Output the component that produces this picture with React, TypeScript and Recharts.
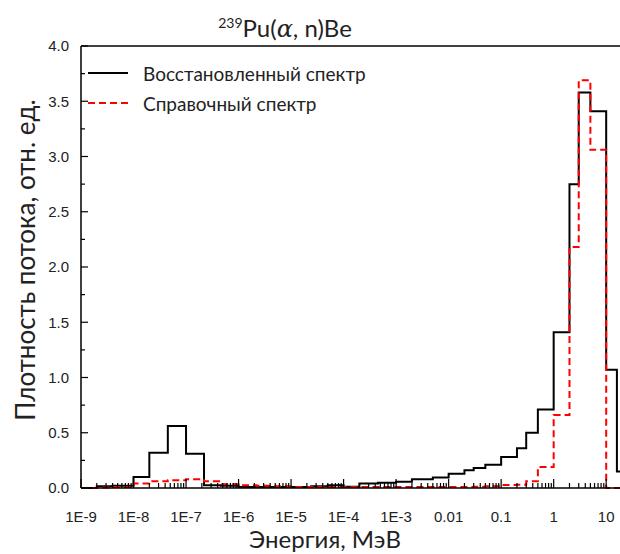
import { Label, Legend, Line, LineChart, ReferenceLine, XAxis, YAxis } from "recharts";

// границы энергетических групп, МэВ
const edges = [
  1e-9, 2e-9, 4e-9, 1e-8, 2e-8, 4.5e-8, 1e-7, 2.2e-7, 4.6e-7, 1e-6, 2.2e-6, 5e-6, 1e-5, 2.4e-5, 5e-5,
  1e-4, 2e-4, 4.5e-4, 1e-3, 2e-3, 5e-3, 0.01, 0.02, 0.03, 0.05, 0.1, 0.2, 0.3, 0.5, 1, 2, 3, 5, 10, 16, 20
];

const restored = [
  0, 0.015, 0.02, 0.1, 0.32, 0.56, 0.31, 0.025, 0.02, 0.01, 0.01, 0.01, 0.01, 0.015, 0.025, 0.012, 0.04,
  0.048, 0.057, 0.08, 0.095, 0.13, 0.16, 0.18, 0.21, 0.28, 0.36, 0.5, 0.71, 1.41, 2.75, 3.58, 3.41, 1.07, 0.15
];

const reference = [
  0, 0.005, 0.01, 0.04, 0.06, 0.07, 0.08, 0.06, 0.035, 0.025, 0.02, 0.015, 0.01, 0.01, 0.01, 0.01, 0.01,
  0.01, 0.01, 0.01, 0.01, 0.01, 0.01, 0.012, 0.015, 0.027, 0.03, 0.06, 0.19, 0.66, 2.18, 3.69, 3.06, 0, 0
];

const seriesNames = ["Восстановленный спектр", "Справочный спектр"];

const decadeTicks = [1e-9, 1e-8, 1e-7, 1e-6, 1e-5, 1e-4, 1e-3, 0.01, 0.1, 1, 10];
const decadeLabels = ["1E-9", "1E-8", "1E-7", "1E-6", "1E-5", "1E-4", "1E-3", "0.01", "0.1", "1", "10"];
const minorTicks = decadeTicks.flatMap((d) => [2, 3, 4, 5, 6, 7, 8, 9].map((m) => m * d)).filter((v) => v < 20);
const xTicks = [...decadeTicks, ...minorTicks].sort((a, b) => a - b);

const yTicks = [0, 0.25, 0.5, 0.75, 1, 1.25, 1.5, 1.75, 2, 2.25, 2.5, 2.75, 3, 3.25, 3.5, 3.75, 4];

const SANS = "Lato, 'Open Sans', sans-serif";
const ARIAL = "'Liberation Sans', Arial, sans-serif";
const TEXT = "#222";

const rows = edges.map((e, i) => ({
  e,
  rec: restored[Math.min(i, restored.length - 1)],
  ref: reference[Math.min(i, reference.length - 1)]
}));

function XTick(props: any) {
  const { x, y, payload } = props;
  const idx = decadeTicks.findIndex((d) => Math.abs(d - payload.value) / d < 1e-6);
  const major = idx >= 0;
  return (
    <g>
      <line x1={x} y1={y} x2={x} y2={y - (major ? 9 : 5)} stroke="#000" strokeWidth={1.2} />
      {major ? (
        <text x={x} y={y + 34} textAnchor="middle" fontSize={15} fontFamily={ARIAL} fill={TEXT}>
          {decadeLabels[idx]}
        </text>
      ) : null}
    </g>
  );
}

function YTick(props: any) {
  const { x, y, payload } = props;
  const v = payload.value as number;
  const major = Math.abs(v * 2 - Math.round(v * 2)) < 1e-9;
  return (
    <g>
      <line x1={x} y1={y} x2={x + (major ? 7 : 4)} y2={y} stroke="#000" strokeWidth={1.2} />
      {major ? (
        <text x={x - 12} y={y} dy="0.35em" textAnchor="end" fontSize={15} fontFamily={ARIAL} fill={TEXT}>
          {v.toFixed(1)}
        </text>
      ) : null}
    </g>
  );
}

function LegendBox() {
  return (
    <div style={{ fontFamily: SANS, fontSize: 19, color: TEXT }}>
      {seriesNames.map((name, i) => (
        <div key={name} style={{ display: "flex", alignItems: "center", height: 30 }}>
          <svg width={40} height={4} style={{ marginRight: 15 }}>
            <line
              x1={0}
              y1={2}
              x2={40}
              y2={2}
              stroke={i === 0 ? "#000" : "#ff0000"}
              strokeWidth={2}
              strokeDasharray={i === 0 ? undefined : "7 4"}
            />
          </svg>
          <span style={{ whiteSpace: "nowrap" }}>{name}</span>
        </div>
      ))}
    </div>
  );
}

export default function App() {
  return (
    <div
      style={{
        width: 620,
        height: 554,
        boxSizing: "border-box",
        padding: "8px 0 0 8px",
        overflow: "hidden"
      }}
    >
      {/* the plot runs to the right edge of the page, as in the source figure */}
      <style>{"body { margin: 0; }"}</style>
      <LineChart width={624} height={546} data={rows} margin={{ top: 38, right: 10, bottom: 0, left: 0 }}>
        <XAxis
          dataKey="e"
          type="number"
          scale="log"
          domain={[1e-9, 20]}
          allowDataOverflow
          ticks={xTicks}
          interval={0}
          tickSize={0}
          tickMargin={0}
          tickLine={false}
          tick={XTick}
          height={66}
          axisLine={{ stroke: "#000", strokeWidth: 1.5 }}
        >
          <Label
            content={() => (
              <text x={317} y={540} textAnchor="middle" fontFamily={SANS} fontSize={24} fill={TEXT}>
                Энергия, МэВ
              </text>
            )}
          />
        </XAxis>
        <YAxis
          type="number"
          domain={[0, 4]}
          ticks={yTicks}
          interval={0}
          tickSize={0}
          tickMargin={0}
          tickLine={false}
          tick={YTick}
          width={73}
          axisLine={{ stroke: "#000", strokeWidth: 1.5 }}
        >
          <Label
            content={() => (
              <g>
                <text
                  x={18}
                  y={252}
                  dy="0.35em"
                  textAnchor="middle"
                  transform="rotate(-90, 18, 252)"
                  fontFamily={SANS}
                  fontSize={26}
                  fill={TEXT}
                >
                  Плотность потока, отн. ед.
                </text>
                <text x={277} y={29} textAnchor="middle" fontFamily={SANS} fill={TEXT} fontSize={24}>
                  <tspan fontSize={14} dy={-9}>239</tspan>
                  <tspan dy={9}>Pu(</tspan>
                  <tspan fontStyle="italic" fontFamily="'DejaVu Serif', serif">α</tspan>
                  <tspan>, n)Be</tspan>
                </text>
              </g>
            )}
          />
        </YAxis>
        <ReferenceLine y={4} stroke="#000" strokeWidth={1.5} />
        <Legend
          content={LegendBox}
          layout="vertical"
          align="center"
          verticalAlign="middle"
          wrapperStyle={{ left: 80, top: 50, width: "auto", height: "auto" }}
        />
        <Line
          dataKey="rec"
          type="stepAfter"
          stroke="#000"
          strokeWidth={2}
          dot={false}
          activeDot={false}
          isAnimationActive={false}
        />
        <Line
          dataKey="ref"
          type="stepAfter"
          stroke="#ff0000"
          strokeWidth={2}
          strokeDasharray="7 4"
          dot={false}
          activeDot={false}
          isAnimationActive={false}
        />
      </LineChart>
    </div>
  );
}
